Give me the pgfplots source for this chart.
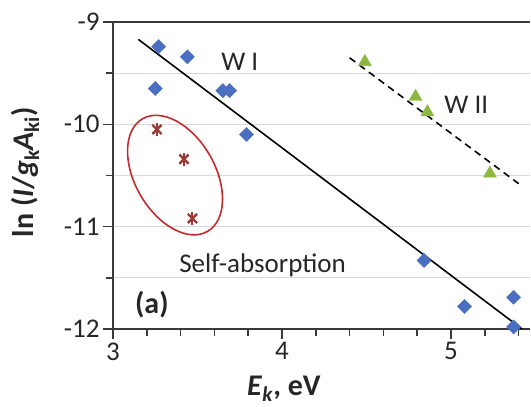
\documentclass[border=0pt]{standalone}
\usepackage{pgfplots}
\pgfplotsset{compat=1.18}
\usepackage{fontspec}
\setmainfont{Carlito}
\usetikzlibrary{shapes.geometric}
\definecolor{wblue}{HTML}{4A6FC1}
\definecolor{wgreen}{HTML}{8DB83F}
\definecolor{wred}{HTML}{9A3B38}
\definecolor{ered}{HTML}{C42B30}
\definecolor{axgray}{HTML}{3A3A3A}
\definecolor{gridgray}{HTML}{D9D9D9}
\definecolor{txt}{HTML}{262626}
\begin{document}
\begin{tikzpicture}
\useasboundingbox (0,0) rectangle (531pt,407pt);
\begin{axis}[
  at={(113pt,78pt)}, anchor=south west,
  scale only axis, width=417pt, height=307pt,
  xmin=3, xmax=5.467, ymin=-12, ymax=-9,
  axis x line*=bottom, axis y line*=left,
  axis line style={-, axgray, line width=1.8pt},
  clip=false,
  xtick={3,4,5}, xticklabels={3,4,5},
  minor xtick={3.2,3.4,3.6,3.8,4.2,4.4,4.6,4.8,5.2,5.4},
  ytick={-12,-11,-10,-9}, yticklabels={-12,-11,-10,-9},
  minor ytick={-11.5,-10.5,-9.5},
  tick align=outside,
  major tick length=10pt, minor tick length=7pt,
  tick style={axgray, line width=1.6pt},
  ymajorgrids, yminorgrids,
  major grid style={gridgray, line width=1.3pt},
  minor grid style={gridgray, line width=1.3pt},
  ticklabel style={font=\fontsize{27}{30}\selectfont, text=txt},
  xlabel={\textbf{\textit{E}\textsubscript{\textit{k}}, eV}},
  ylabel={\textbf{ln (\textit{I}/\textit{g}\textsubscript{k}\textit{A}\textsubscript{ki})}},
  xlabel style={font=\fontsize{30}{33}\selectfont, text=txt, at={(axis description cs:0.41,-0.194)}, anchor=center},
  ylabel style={font=\fontsize{30}{33}\selectfont, text=txt, at={(axis description cs:-0.211,0.511)}, anchor=center},
]
\addplot[only marks, mark=square*, mark size=5pt, mark options={rotate=45, fill=wblue, draw=wblue}] coordinates {
(3.27,-9.24) (3.44,-9.34) (3.25,-9.65) (3.65,-9.67) (3.69,-9.67) (3.79,-10.10)
(4.84,-11.33) (5.08,-11.78) (5.37,-11.69) (5.37,-11.98)};
\addplot[only marks, mark=x, mark size=6.5pt, mark options={draw=wred, line width=2.4pt}] coordinates {
(3.26,-10.05) (3.42,-10.34) (3.47,-10.92)};
\addplot[only marks, mark=|, mark size=6.5pt, mark options={draw=wred, line width=2pt}] coordinates {
(3.26,-10.05) (3.42,-10.34) (3.47,-10.92)};
\addplot[only marks, mark=triangle*, mark size=7.5pt, mark options={fill=wgreen, draw=wgreen}] coordinates {
(4.49,-9.39) (4.79,-9.73) (4.86,-9.88) (5.23,-10.48)};
\addplot[black, line width=1.6pt] coordinates {(3.15,-9.17) (5.42,-12.0)};
\addplot[black, line width=1.6pt, dash pattern=on 7pt off 5pt] coordinates {(4.40,-9.35) (5.40,-10.58)};
\draw[axgray, line width=2pt] (rel axis cs:0,1) -- (rel axis cs:1,1);
\node[draw=ered, line width=1.6pt, ellipse, minimum width=80pt, minimum height=130pt, inner sep=0pt, rotate=30] at (axis cs:3.367,-10.496) {};
\node[font=\fontsize{27}{30}\selectfont, text=txt] at (axis cs:3.75,-9.39) {W I};
\node[font=\fontsize{27}{30}\selectfont, text=txt] at (axis cs:5.09,-9.81) {W II};
\node[font=\fontsize{27}{30}\selectfont, text=txt] at (axis cs:3.885,-11.375) {Self-absorption};
\node[font=\bfseries\fontsize{30}{33}\selectfont, text=txt] at (axis cs:3.23,-11.76) {(a)};
\end{axis}
\end{tikzpicture}
\end{document}
